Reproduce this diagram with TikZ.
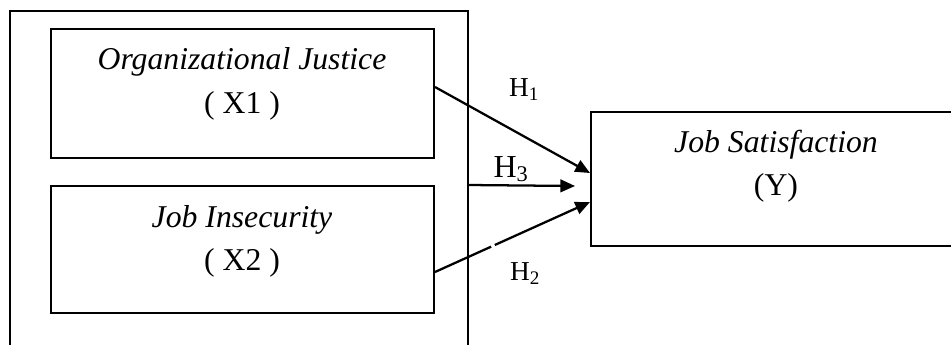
\documentclass[tikz,border=0pt]{standalone}
\usepackage{fontspec}
\setmainfont{Liberation Serif}
\usetikzlibrary{arrows.meta,calc}
\tikzset{
  boxline/.style={draw=black, line width=1.5pt, rectangle, inner sep=0pt},
  maintext/.style={anchor=base, inner sep=0pt, font=\fontsize{23.8}{28}\selectfont},
  hlabel/.style={anchor=base, inner sep=0pt, font=\fontsize{20.5}{24}\selectfont},
  hbig/.style={anchor=base, inner sep=0pt, font=\fontsize{24}{28}\selectfont},
  link/.style={line width=1.7pt, -{Triangle[length=11pt,width=9.5pt]}}
}
\begin{document}
\begin{tikzpicture}[x=0.75pt,y=-0.75pt]
\useasboundingbox (0,0) rectangle (951,344);
\begin{scope}
\clip (0,0) rectangle (951,344);
% outer frame (extends past the bottom edge)
\node[boxline, minimum width=343.5pt, minimum height=291.75pt] (outer) at (239,205.5) {};
% inner boxes
\node[boxline, minimum width=287.25pt, minimum height=96.75pt] (box1) at (242.5,93.5) {};
\node[boxline, minimum width=287.25pt, minimum height=95.25pt] (box2) at (242.5,249.5) {};
% dependent variable box (extends past the right edge)
\node[boxline, minimum width=291.75pt, minimum height=100.5pt] (ybox) at (785.5,179) {};
\end{scope}
% texts
\node[maintext] (t1a) at (242,69) {\itshape Organizational Justice};
\node[maintext] (t1b) at (242,113) {( X1 )};
\node[maintext] (t2a) at (242,227) {\itshape Job Insecurity};
\node[maintext] (t2b) at (242,270) {( X2 )};
\node[maintext] (tya) at (776,152) {\itshape Job Satisfaction};
\node[maintext] (tyb) at (776,195) {(Y)};
% connectors
\coordinate (s1) at ($(box1.east)+(0,-6.5)$);
\coordinate (e1) at ($(ybox.west)+(0,-6)$);
\coordinate (s2) at ($(box2.east)+(0,22.5)$);
\coordinate (e2) at ($(ybox.west)+(0,23)$);
\coordinate (s3) at ($(outer.north east)+(0,175)$);
\coordinate (e3) at ($(ybox.west)+(-15,7)$);
\draw[link] (s1) -- (e1);
\draw[link] (s3) -- (e3);
\draw[link] (s2) -- (e2);
% small break in the H2 line
\draw[white, line width=2.8pt] ($(s2)!0.363!(e2)$) -- ($(s2)!0.385!(e2)$);
% labels
\node[hlabel] (h1) at (524,96) {H\textsubscript{1}};
\node[hbig] (h3) at (511,177) {H\textsubscript{3}};
\node[hlabel] (h2) at (525,280) {H\textsubscript{2}};
\end{tikzpicture}
\end{document}
